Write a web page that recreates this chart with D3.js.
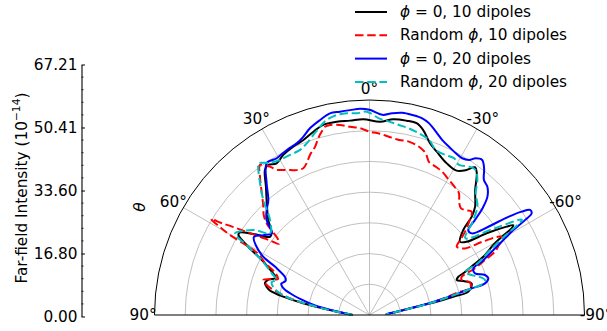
<!DOCTYPE html>
<html>
<head>
<meta charset="utf-8">
<script src="https://cdn.jsdelivr.net/npm/d3@7"></script>
<style>
  html, body { margin: 0; padding: 0; background: #fff; }
  svg text { font-family: "DejaVu Sans", sans-serif; }
</style>
</head>
<body>
<div id="chart"></div>
<script>
// Far-field intensity (units of 1e-14) against polar angle theta in degrees.
// Positive theta opens to the left, negative to the right.
const thetaPhi0N10 = [90, 86, 82.8, 80, 78, 76.3, 75, 73.1, 70.9, 68.4, 66.1, 63.3, 60.6, 58.6, 57.6, 55.1, 51.8, 50.1, 46.8, 42.6, 38.9, 35.8, 34, 31.5, 28.3, 24.4, 20.7, 17, 13.7, 9.6, 5.7, 1.8, -3.1, -6.9, -10.8, -13.8, -16.2, -19.4, -22.4, -27, -31.1, -33.8, -35.5, -37.1, -40.2, -44.3, -46.1, -47.8, -51, -53, -55.1, -57.2, -58, -58.6, -59.4, -60.5, -62.9, -64.3, -66, -66.7, -68.1, -70.1, -72.8, -76.7, -77.7, -78.8, -79.5, -80.6, -84, -87.7, -90];
const rPhi0N10     = [5.5, 8, 13, 21.9, 28.7, 33.2, 34.5, 35.6, 35, 32.8, 34.8, 38.7, 45.3, 50.0, 50.1, 46.1, 41.2, 41.5, 45.2, 49.4, 53.7, 58.2, 58.9, 57.9, 59.2, 60.2, 60.9, 62.4, 63.7, 63.8, 63.6, 63.8, 63.0, 64.2, 64.4, 64.3, 62.7, 59.3, 57.5, 55.4, 54.9, 56.8, 59.1, 57.9, 53.3, 49.2, 46.2, 41.2, 37.9, 39.6, 46.5, 53.1, 55.2, 54.2, 50.0, 46.3, 41.6, 37.5, 33.4, 31.5, 30.6, 32.5, 34.8, 33.1, 27.9, 22.3, 17.8, 13.4, 8, 5.6, 5.5];

const thetaRandN10 = [90, 86, 83, 80, 78, 76, 74, 71.8, 70, 68.5, 66, 63.5, 62, 61, 60.5, 60.2, 59.6, 58.8, 58.2, 57.2, 56, 54.5, 53, 51.8, 50.5, 49.2, 48.3, 46.5, 44.4, 41.5, 38.4, 36.1, 33.9, 32.6, 29.7, 26.7, 24.3, 22.5, 20.4, 17.9, 16.2, 14.6, 13.3, 11.7, 8.8, 5.9, 2.9, 0, -3.0, -6.2, -9.6, -12.8, -16.4, -19.2, -21.2, -24.1, -26.9, -30.5, -34.2, -36.3, -38.6, -40.5, -42.3, -44.7, -46.5, -48.9, -50.4, -51.9, -55.1, -57.0, -59.0, -60.2, -61.5, -63.2, -64.5, -66.1, -67.5, -69.2, -72.0, -75.1, -75.7, -78, -79.5, -81, -84, -87.7, -90];
const rRandN10     = [5.5, 8, 13, 21, 27, 31, 34.5, 36.4, 34, 32, 33.5, 38, 40, 42, 46, 52, 56, 60.3, 57, 53, 48.5, 44, 40, 37.5, 38.5, 42, 44.9, 47.5, 49.4, 52.9, 57.4, 60.5, 58.2, 56.1, 54.4, 52.8, 52.4, 53.5, 55.6, 57.6, 59.9, 61.7, 63.0, 63.2, 62.6, 61.6, 60.9, 59.7, 59.2, 58.4, 57.8, 57.9, 57.1, 55.7, 53.5, 52.9, 52.3, 51.0, 49.9, 49.2, 46.8, 45.8, 46.2, 47.3, 45, 41.3, 38.3, 36.1, 37.9, 43.7, 49.6, 50.2, 48, 45.8, 41.7, 37.6, 32.5, 32.1, 34.4, 33.9, 29.8, 23, 18, 13, 8, 5.6, 5.5];

const thetaPhi0N20 = [90, 86, 83, 80, 77, 74.7, 72.5, 70.5, 68, 66, 62.9, 60.9, 56, 53, 50.1, 47.3, 44.5, 41.3, 38.0, 34.1, 30.6, 26.6, 23.0, 20.4, 17.7, 14.2, 11.1, 8.3, 5.4, 2.6, 0, -3.7, -6.4, -9.2, -12.1, -15.0, -17.2, -19.9, -22.6, -25.3, -28.1, -30.6, -32.7, -34.1, -36.0, -38.0, -40.3, -42.6, -44.9, -46.5, -48.0, -49.3, -51.4, -53.4, -54.5, -55.8, -56.8, -57.9, -58.6, -59.6, -61.0, -62.6, -64.6, -65.8, -68.4, -70.9, -72.8, -74.7, -75.4, -76.3, -78, -79.5, -81, -84, -87.7, -90];
const rPhi0N20     = [5.5, 8, 12, 18, 23, 26.8, 29.5, 30.5, 29.5, 30, 34.6, 40.2, 45.4, 43.2, 41.5, 45.6, 47.8, 49.9, 54.4, 59.7, 59.3, 60.1, 60.7, 61.9, 63.8, 65.5, 66.9, 66.9, 67.0, 67.21, 66.8, 65.3, 66.1, 66.7, 66.6, 66.3, 65.4, 63.5, 61.7, 60.6, 59.7, 59.3, 60.0, 61.6, 62.4, 60.6, 57.6, 56.7, 54.4, 51.0, 46.2, 42.4, 42.6, 48.2, 54.2, 59.9, 62.5, 62.3, 59.3, 53.7, 49.2, 44.8, 40.4, 37.1, 36.9, 39.8, 40.5, 39.0, 34.4, 29.8, 23, 17.8, 13, 8, 5.6, 5.5];

const thetaRandN20 = [90, 86, 83, 80, 78, 76, 74, 71.5, 69.3, 66.9, 63.0, 60.6, 58.7, 55.9, 53.4, 50.6, 46.3, 42.7, 39.7, 36.9, 36.2, 33.2, 30.0, 26.4, 22.8, 20.1, 17.3, 14.7, 12.4, 9.3, 6.4, 3.6, 0.8, -2.8, -5.8, -8.8, -11.9, -15.2, -18.8, -21.9, -25.5, -28.3, -30.8, -33.9, -36.2, -38.6, -41.1, -44.9, -48, -51.3, -55.3, -58.0, -59.7, -61.7, -64.4, -65.8, -67, -69, -71, -73.1, -74.7, -75.4, -76.3, -78, -79.5, -81, -84, -87.7, -90];
const rRandN20     = [5.5, 8, 13, 21, 27, 30.5, 32.5, 33.6, 32.3, 34.6, 39.4, 45.3, 51.2, 49, 46.4, 41.9, 44.8, 51.0, 55.8, 60.4, 61.2, 59.2, 58.3, 58.2, 58.3, 59.5, 61.4, 63.4, 65.0, 66.0, 66.1, 65.8, 66.2, 64.1, 63.3, 62.6, 62.1, 61.3, 60.2, 57.9, 57.7, 58.0, 56.9, 58.2, 58.5, 56.3, 52.6, 49.8, 45, 40.0, 49.7, 58.5, 51.1, 44.6, 39.2, 34.1, 34.5, 36, 38, 39.3, 38, 34.5, 30, 23.5, 18, 13, 8, 5.6, 5.5];

const seriesNames = ["\u03d5 = 0, 10 dipoles", "Random \u03d5, 10 dipoles", "\u03d5 = 0, 20 dipoles", "Random \u03d5, 20 dipoles"];
const seriesColors = ["#000000", "#ff0000", "#0000ff", "#00bfbf"];
const seriesDashed = [false, true, false, true];

const thetaTicks = [90, 60, 30, 0, -30, -60, -90];
const radialGrid = [10, 20, 30, 40, 50, 60];
const radialMax = 70;
const intensityTicks = [0, 16.80, 33.60, 50.41, 67.21];

const W = 607, H = 331;
const svg = d3.select("#chart").append("svg")
  .attr("width", W).attr("height", H)
  .attr("viewBox", `0 0 ${W} ${H}`);
svg.append("rect").attr("width", W).attr("height", H).attr("fill", "#fff");

const FS = 15.3;

// ---- polar half-disc ----
const cx = 369.5, cy = 315, R = 215;
const r = d3.scaleLinear().domain([0, radialMax]).range([0, R]);
const toRad = d => -d * Math.PI / 180; // d3 radial angle: 0 at top, clockwise

const polar = svg.append("g").attr("transform", `translate(${cx},${cy})`);

const semi = rr => `M${-rr},0A${rr},${rr} 0 0 1 ${rr},0`;

polar.selectAll("path.ring").data(radialGrid).join("path")
  .attr("class", "ring")
  .attr("d", d => semi(r(d)))
  .attr("fill", "none").attr("stroke", "#b0b0b0").attr("stroke-width", 0.8);

polar.selectAll("line.spoke").data(thetaTicks.filter(t => Math.abs(t) < 90)).join("line")
  .attr("class", "spoke")
  .attr("x1", 0).attr("y1", 0)
  .attr("x2", d => R * Math.sin(toRad(d)))
  .attr("y2", d => -R * Math.cos(toRad(d)))
  .attr("stroke", "#b0b0b0").attr("stroke-width", 0.8);

const lineGen = d3.lineRadial()
  .angle(d => toRad(d[0]))
  .radius(d => r(d[1]))
  .curve(d3.curveCatmullRom.alpha(0.5));

const thetaSets = [thetaPhi0N10, thetaRandN10, thetaPhi0N20, thetaRandN20];
const rSets = [rPhi0N10, rRandN10, rPhi0N20, rRandN20];

thetaSets.forEach((ts, i) => {
  const pts = ts.map((t, j) => [t, rSets[i][j]]);
  polar.append("path")
    .attr("d", lineGen(pts))
    .attr("fill", "none")
    .attr("stroke", seriesColors[i])
    .attr("stroke-width", 2)
    .attr("stroke-linejoin", "round")
    .attr("stroke-dasharray", seriesDashed[i] ? "8.5,3.7" : null);
});

// frame: outer arc and base line
polar.append("path").attr("d", semi(R))
  .attr("fill", "none").attr("stroke", "#000").attr("stroke-width", 1);
polar.append("line").attr("x1", -R).attr("x2", R).attr("y1", 0).attr("y2", 0)
  .attr("stroke", "#000").attr("stroke-width", 1);

const labelR = R + 11.5;
polar.selectAll("text.ang").data(thetaTicks).join("text")
  .attr("class", "ang")
  .attr("x", d => labelR * Math.sin(toRad(d)))
  .attr("y", d => -labelR * Math.cos(toRad(d)))
  .attr("text-anchor", "middle")
  .attr("dominant-baseline", "central")
  .attr("font-size", FS)
  .text(d => `${d}\u00b0`);

svg.append("text")
  .attr("transform", "translate(140,207) rotate(-90)")
  .attr("text-anchor", "middle").attr("dominant-baseline", "central")
  .attr("font-size", FS).attr("font-style", "italic")
  .text("\u03b8");

// ---- intensity axis ----
const axisX = 81.5;
const y = d3.scaleLinear().domain([0, 67.21]).range([316.5, 64.5]);
const yAxis = d3.axisLeft(y)
  .tickValues(intensityTicks)
  .tickFormat(d => d.toFixed(2))
  .tickSizeInner(-3.5).tickSizeOuter(0).tickPadding(4);
const ag = svg.append("g").attr("transform", `translate(${axisX},0)`).call(yAxis);
ag.select(".domain").attr("stroke", "#000").attr("stroke-width", 1.1);
ag.selectAll(".tick line").attr("stroke", "#000").attr("stroke-width", 1);
ag.selectAll(".tick text").attr("font-size", FS).attr("fill", "#000")
  .attr("font-family", "DejaVu Sans");
const minor = d3.range(1, 20).filter(i => i % 5 !== 0).map(i => i * 67.21 / 20);
ag.selectAll("line.minor").data(minor).join("line")
  .attr("class", "minor")
  .attr("x1", 0).attr("x2", 2)
  .attr("y1", d => y(d)).attr("y2", d => y(d))
  .attr("stroke", "#000").attr("stroke-width", 0.8);

const yl = svg.append("text")
  .attr("transform", "translate(22,188) rotate(-90)")
  .attr("text-anchor", "middle").attr("dominant-baseline", "central")
  .attr("font-size", FS);
yl.append("tspan").text("Far-field Intensity (10");
yl.append("tspan").attr("dy", -6).attr("font-size", 10.7).text("\u221214");
yl.append("tspan").attr("dy", 6).text(")");

// ---- legend ----
const legend = svg.append("g");
seriesNames.forEach((name, i) => {
  const ly = 12 + i * 23.3;
  legend.append("line")
    .attr("x1", 355).attr("x2", 387).attr("y1", ly).attr("y2", ly)
    .attr("stroke", seriesColors[i]).attr("stroke-width", 2)
    .attr("stroke-dasharray", seriesDashed[i] ? "8.5,3.7" : null);
  const t = legend.append("text")
    .attr("x", 400).attr("y", ly)
    .attr("dominant-baseline", "central")
    .attr("font-size", FS);
  const parts = name.split("\u03d5");
  t.append("tspan").text(parts[0]);
  t.append("tspan").attr("font-style", "italic").text("\u03d5");
  t.append("tspan").text(parts[1]);
});
</script>
</body>
</html>
